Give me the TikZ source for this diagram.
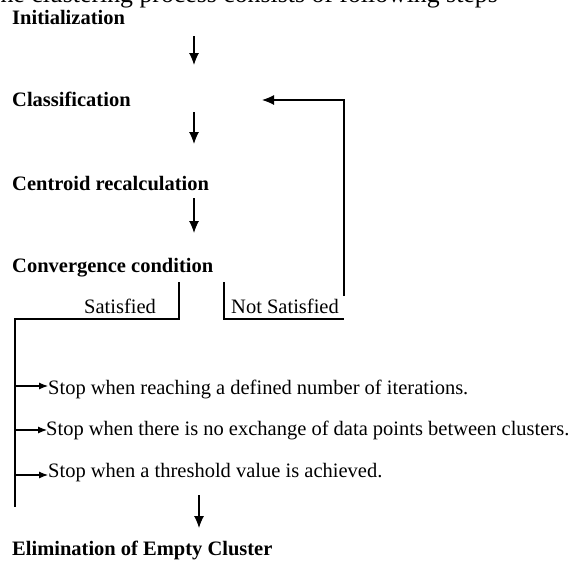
\documentclass[tikz,border=0pt]{standalone}
\usepackage{fontspec}
\setmainfont{Liberation Serif}
\usetikzlibrary{arrows.meta}
\begin{document}
\begin{tikzpicture}[x=1pt,y=-1pt,
  steptxt/.style={inner sep=0pt,anchor=base west,font=\fontsize{20.5}{24}\selectfont\bfseries},
  plaintxt/.style={inner sep=0pt,anchor=base west,font=\fontsize{20.5}{24}\selectfont},
  ln/.style={line width=1.1pt,black},
  bigarr/.style={ln,-{Latex[length=12pt,width=10pt]}},
  smallarr/.style={ln,-{Latex[length=9pt,width=7pt]}}]
\useasboundingbox (0,0) rectangle (575,563);
\fill[white] (0,0) rectangle (575,563);
\node[inner sep=0pt,anchor=base east,font=\fontsize{25.8}{30}\selectfont] (top) at (498,2) {The clustering process consists of following steps};
\node[steptxt] (init) at (12,24) {Initialization};
\node[steptxt] (classif) at (12,106) {Classification};
\node[steptxt] (centroid) at (12,190) {Centroid recalculation};
\node[steptxt] (conv) at (12,272) {Convergence condition};
\node[plaintxt] (sat) at (84,313) {Satisfied};
\node[plaintxt] (notsat) at (231,313) {Not Satisfied};
\node[plaintxt] (stop1) at (48,394) {Stop when reaching a defined number of iterations.};
\node[plaintxt] (stop2) at (46,435) {Stop when there is no exchange of data points between clusters.};
\node[plaintxt] (stop3) at (48,477) {Stop when a threshold value is achieved.};
\node[steptxt] (elim) at (12,555) {Elimination of Empty Cluster};
% main arrows
\coordinate (a1s) at (194,36); \coordinate (a1e) at (194,65);
\coordinate (a2s) at (194,112); \coordinate (a2e) at (194,144);
\coordinate (a3s) at (194,198); \coordinate (a3e) at (194,233);
\coordinate (a4s) at (199,495); \coordinate (a4e) at (199,528);
\draw[bigarr] (a1s) -- (a1e);
\draw[bigarr] (a2s) -- (a2e);
\draw[bigarr] (a3s) -- (a3e);
\draw[bigarr] (a4s) -- (a4e);
% feedback
\coordinate (fbb) at (344,296); \coordinate (fbt) at (344,100); \coordinate (fbe) at (262,100);
\draw[bigarr] (fbb) -- (fbt) -- (fbe);
% satisfied bracket
\coordinate (sv1) at (179,282); \coordinate (sv2) at (179,319);
\coordinate (sl) at (15,319); \coordinate (sb) at (15,507);
\draw[ln] (sv1) -- (sv2) -- (sl) -- (sb);
% not satisfied bracket
\coordinate (nv1) at (224,282); \coordinate (nv2) at (224,319); \coordinate (nr) at (344,319);
\draw[ln] (nv1) -- (nv2) -- (nr);
% stop arrows
\draw[smallarr] (15,386) -- (stop1.west |- 0,386);
\draw[smallarr] (15,430) -- ([xshift=1pt]stop2.west |- 0,430);
\draw[smallarr] (15,475) -- (stop3.west |- 0,475);
\end{tikzpicture}
\end{document}
